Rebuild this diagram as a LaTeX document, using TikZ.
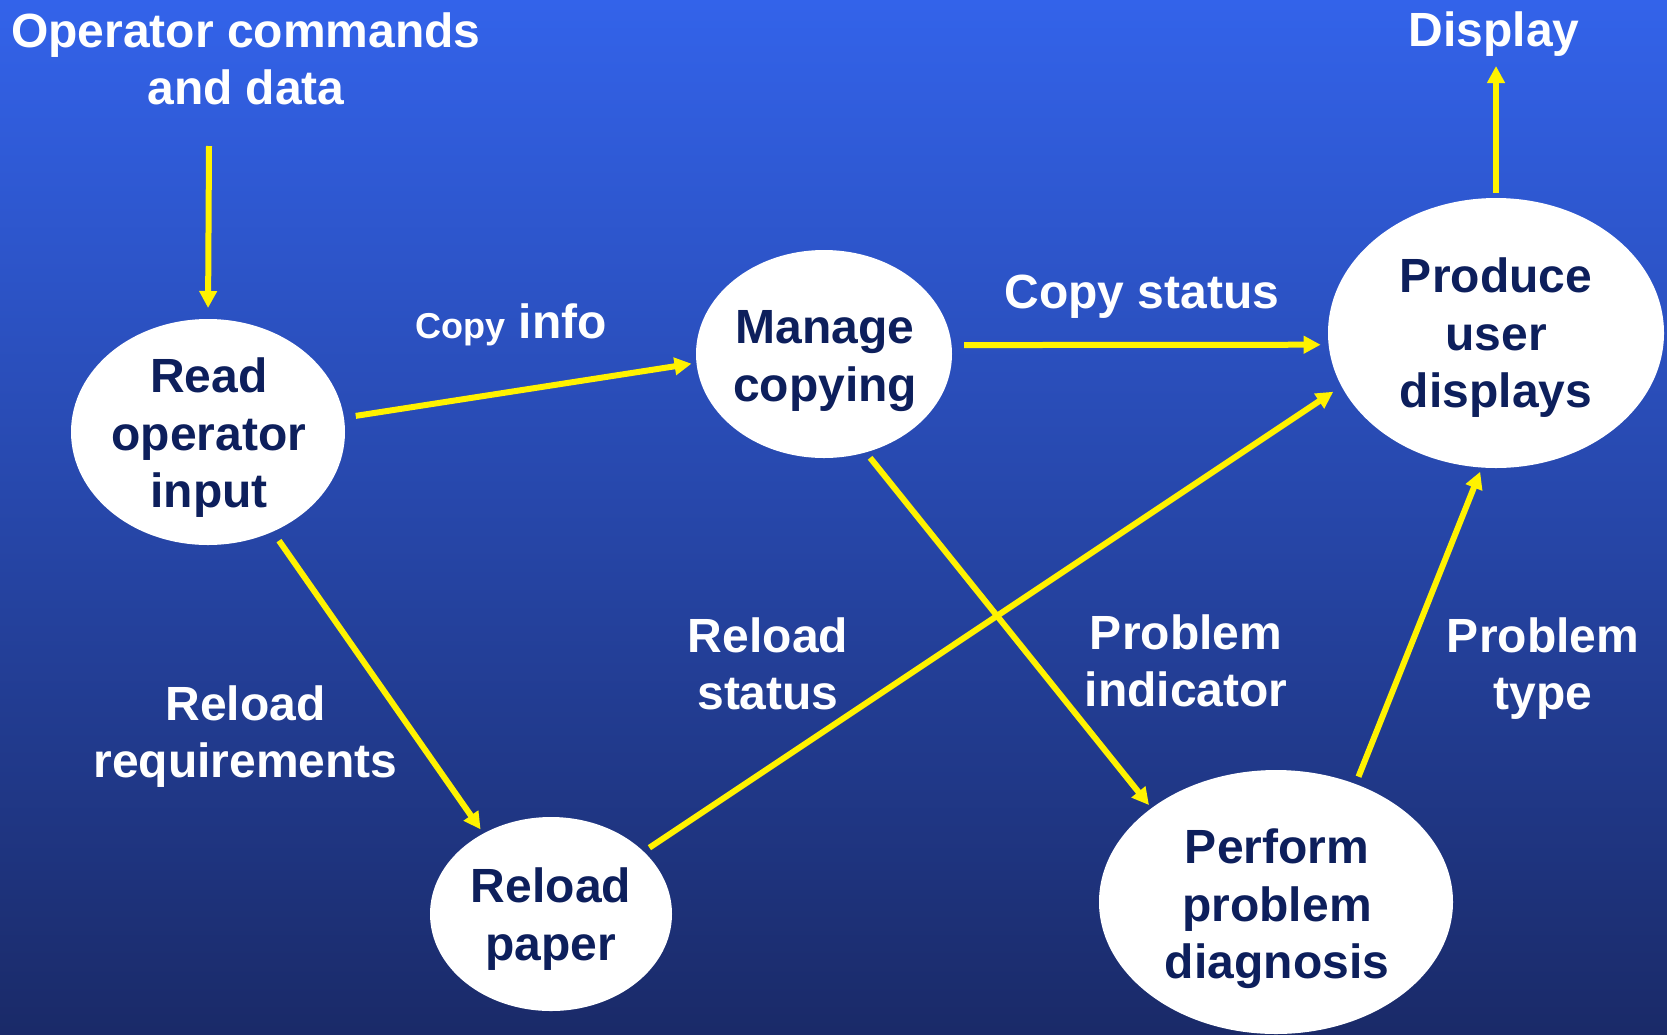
\documentclass[tikz,border=0pt]{standalone}
\usepackage{fontspec}
\setmainfont{Liberation Sans}
\usetikzlibrary{shapes.geometric,arrows.meta}
\definecolor{bgtop}{HTML}{3363EA}
\definecolor{bgmid}{HTML}{2A4BBC}
\definecolor{bgbot}{HTML}{1A2A68}
\definecolor{navy}{HTML}{0D1F5C}
\newcommand\lnstrut{\rule[-12pt]{0pt}{48pt}}
\tikzset{
  proc/.style={ellipse, fill=white, draw=none, inner sep=0pt, outer sep=0pt},
  bigfont/.style={font=\fontsize{48}{57.5}\selectfont\bfseries},
  proctext/.style={bigfont, text=navy, align=center, inner sep=0pt,
    execute at begin node=\lnstrut, execute at end node=\lnstrut},
  lbl/.style={bigfont, text=white, align=center, inner sep=0pt,
    execute at begin node=\lnstrut, execute at end node=\lnstrut},
  flow/.style={draw=yellow, line width=6pt, -{Triangle[length=17pt,width=17pt]}}
}
\begin{document}
\begin{tikzpicture}[x=1pt,y=-1pt]
\useasboundingbox (0,0) rectangle (1667,1034);
\shade[top color=bgtop, middle color=bgmid, bottom color=bgbot] (0,0) rectangle (1667,1034);

% process bubbles
\node[proc, minimum width=274pt, minimum height=226pt] (read) at (208,432) {};
\node[proc, minimum width=256pt, minimum height=208pt] (manage) at (824,354) {};
\node[proc, minimum width=336pt, minimum height=270pt] (produce) at (1496,333) {};
\node[proc, minimum width=242pt, minimum height=194pt] (reload) at (551,914) {};
\node[proc, minimum width=354pt, minimum height=264pt] (perform) at (1276,902) {};

\node[proctext] (readt) at (209,439) {Read\\operator\\input};
\node[proctext] (managet) at (825,362) {Manage\\copying};
\node[proctext] (producet) at (1496,339) {Produce\\user\\displays};
\node[proctext] (reloadt) at (551,920) {Reload\\paper};
\node[proctext] (performt) at (1277,910) {Perform\\problem\\diagnosis};

% labels
\node[lbl] (opcmd) at (246,64.5) {Operator commands\\and data};
\node[lbl] (display) at (1494,34) {Display};
\node[lbl] (copyinfo) at (511,326) {{\fontsize{36}{43}\selectfont Copy} info};
\node[lbl] (copystatus) at (1142,296) {Copy status};
\node[lbl] (reloadreq) at (245.5,737.5) {Reload\\requirements};
\node[lbl] (reloadstat) at (768,669.5) {Reload\\status};
\node[lbl] (probind) at (1186,666.5) {Problem\\indicator};
\node[lbl] (probtype) at (1543,669.5) {Problem\\type};

\coordinate (incoming) at (209,146);
\coordinate (dispout) at (1496,66);

% flows
\draw[flow, shorten >=11pt] (incoming) -- (read.north);
\draw[flow, shorten <=12pt, shorten >=5pt] (read.6.5) -- (manage.184.3);
\draw[flow, shorten <=12.5pt, shorten >=8pt] (manage.4.5) -- (produce.184.1);
\draw[flow, shorten <=5pt] (produce.north) -- (dispout);
\draw[flow, shorten <=11pt, shorten >=5pt] (read.-57.9) -- (reload.130.6);
\draw[flow, shorten <=7pt, shorten >=10pt] (reload.34.4) -- (produce.199.9);
\draw[flow, shorten <=7pt, shorten >=4pt] (manage.-67.7) -- (perform.143.6);
\draw[flow, shorten <=8pt, shorten >=4.5pt] (perform.56.1) -- (produce.264.2);
\end{tikzpicture}
\end{document}
